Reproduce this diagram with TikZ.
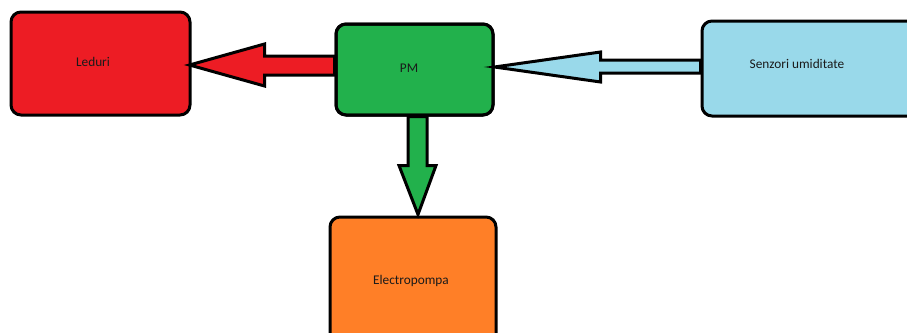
\documentclass[tikz,border=0pt]{standalone}
\usepackage{fontspec}
\setmainfont{Carlito}
\usetikzlibrary{calc}
\definecolor{pred}{HTML}{ED1C24}
\definecolor{pgreen}{HTML}{22B14C}
\definecolor{porange}{HTML}{FF7F27}
\definecolor{pblue}{HTML}{99D9EA}
\definecolor{ptext}{HTML}{1A1A1A}
\tikzset{
  box/.style={draw=black, line width=3pt, rounded corners=10pt, inner sep=0pt},
  lbl/.style={text=ptext, font=\fontsize{13.3}{15}\selectfont, inner sep=0pt},
  blockarrow/.style={draw=black, line width=3pt, line join=miter, miter limit=20}
}
\begin{document}
\begin{tikzpicture}[x=1pt, y=-1pt]
\useasboundingbox (0,0) rectangle (907,332);
\clip (0,0) rectangle (907,332);
% boxes
\node[box, fill=pred, minimum width=179pt, minimum height=103pt] (led) at (100.5,63.5) {};
\node[box, fill=pgreen, minimum width=157pt, minimum height=91pt] (pm) at (414.5,69.5) {};
\node[box, fill=pblue, minimum width=230pt, minimum height=95pt] (sen) at (817,68.5) {};
\node[box, fill=porange, minimum width=166pt, minimum height=130pt] (ep) at (413,282) {};
% labels
\node[lbl] (tled) at (93,62) {Leduri};
\node[lbl] (tpm) at (409,68) {PM};
\node[lbl] (tsen) at (797,64) {Senzori umiditate};
\node[lbl] (tep) at (411,281) {Electropompa};
% red arrow PM -> Leduri
\coordinate (rt) at ($(led.east)+(-2,1.5)$);
\coordinate (r1) at ($(rt)+(0,-9)$);
\coordinate (r2) at ($(rt)+(0,10)$);
\draw[blockarrow, fill=pred] (rt) -- ++(75,-21) -- ++(0,12) -- (r1 -| pm.west) -- (r2 -| pm.west) -- ($(rt)+(75,10)$) -- ++(0,11) -- cycle;
% blue arrow Senzori -> PM
\coordinate (bt) at ($(pm.east)+(0,-2.5)$);
\coordinate (b1) at ($(bt)+(0,-7)$);
\coordinate (b2) at ($(bt)+(0,6)$);
\draw[blockarrow, fill=pblue] (bt) -- ++(106,-15) -- ++(0,8) -- (b1 -| sen.west) -- (b2 -| sen.west) -- ($(bt)+(106,6)$) -- ++(0,9) -- cycle;
% green arrow PM -> Electropompa
\coordinate (gt) at ($(ep.north)+(5,-1)$);
\coordinate (g1) at ($(gt)+(-10,0)$);
\coordinate (g2) at ($(gt)+(9,0)$);
\draw[blockarrow, fill=pgreen] (gt) -- ++(18,-49) -- ++(-9,0) -- (g2 |- pm.south) -- (g1 |- pm.south) -- ($(gt)+(-10,-49)$) -- ++(-9,0) -- cycle;
% redraw box outline on top at arrow junctions
\node[box, minimum width=157pt, minimum height=91pt] at (414.5,69.5) {};
\end{tikzpicture}
\end{document}
